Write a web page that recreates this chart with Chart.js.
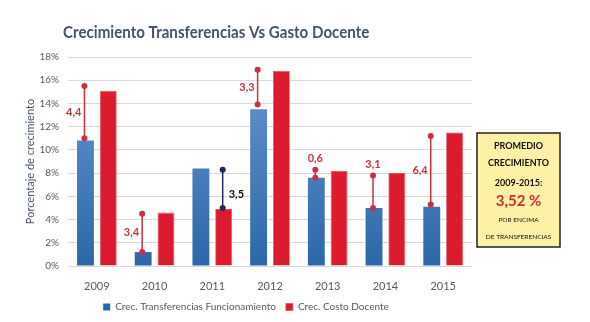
<!DOCTYPE html>
<html>
<head>
<meta charset="utf-8">
<script src="https://cdn.jsdelivr.net/npm/chart.js@4.4.0/dist/chart.umd.min.js"></script>
<style>
  html, body { margin: 0; padding: 0; background: #fff; }
  #wrap { width: 590px; height: 322px; }
</style>
</head>
<body>
<div id="wrap"><canvas id="myChart"></canvas></div>
<script>
// chart data
const years = ["2009", "2010", "2011", "2012", "2013", "2014", "2015"];
const transferencias = [10.8, 1.2, 8.4, 13.5, 7.6, 5.0, 5.1];
const costoDocente = [15.1, 4.6, 4.9, 16.8, 8.2, 8.0, 11.5];
// gap markers (from - to) and their labels
const gapLow = [11.0, 1.2, 5.0, 13.9, 7.6, 5.0, 5.3];
const gapHigh = [15.5, 4.5, 8.3, 16.9, 8.3, 7.8, 11.2];
const gapLabels = ["4,4", "3,4", "3,5", "3,3", "0,6", "3,1", "6,4"];
const yTicks = [0, 2, 4, 6, 8, 10, 12, 14, 16, 18];

// where each gap marker sits: which bar (0 blue, 1 red) and label side
const gapBar = [0, 0, 1, 0, 0, 0, 0];
const gapSide = ["left", "left", "right", "left", "top", "top", "left"];

const ctx = document.getElementById("myChart");
const FONT = "Lato, 'Open Sans', sans-serif";

const gapPlugin = {
  id: "gaps",
  afterDatasetsDraw(chart) {
    const c = chart.ctx;
    const y = chart.scales.y;
    years.forEach((yr, i) => {
      const bar = chart.getDatasetMeta(gapBar[i]).data[i];
      const x = bar.x - 1;
      const y1 = y.getPixelForValue(gapLow[i]);
      const y2 = y.getPixelForValue(gapHigh[i]);
      const col = gapBar[i] === 1 ? "#1f2a5c" : "#c8323f";
      c.save();
      c.strokeStyle = col;
      c.fillStyle = col;
      c.lineWidth = 1.5;
      c.beginPath();
      c.moveTo(x, y1);
      c.lineTo(x, y2);
      c.stroke();
      [y1, y2].forEach(p => {
        c.beginPath();
        c.arc(x, p, 3, 0, Math.PI * 2);
        c.fill();
      });
      c.font = "bold 11px " + FONT;
      c.fillStyle = gapBar[i] === 1 ? "#111" : "#c8323f";
      c.textBaseline = "middle";
      const mid = (y1 + y2) / 2;
      if (gapSide[i] === "left") {
        c.textAlign = "right";
        c.fillText(gapLabels[i], x - 3, mid);
      } else if (gapSide[i] === "right") {
        c.textAlign = "left";
        c.fillText(gapLabels[i], x + 6, mid + 6);
      } else {
        c.textAlign = "center";
        c.fillText(gapLabels[i], x, y2 - 11);
      }
      c.restore();
    });
  },
  afterDraw(chart) {
    const c = chart.ctx;
    c.save();
    // title (squeezed a bit, reference font is narrow)
    c.font = "bold 17px " + FONT;
    c.fillStyle = "#44546a";
    c.textAlign = "left";
    c.textBaseline = "middle";
    c.translate(63, 33);
    c.scale(0.89, 1);
    c.fillText("Crecimiento Transferencias Vs Gasto Docente", 0, 0);
    c.setTransform(1, 0, 0, 1, 0, 0);

    // side note box
    const bx = 477, by = 133, bw = 83, bh = 114;
    c.fillStyle = "#fdf1a6";
    c.fillRect(bx, by, bw, bh);
    c.strokeStyle = "#222";
    c.lineWidth = 1.5;
    c.strokeRect(bx, by, bw, bh);
    const cx = bx + bw / 2;
    c.textAlign = "center";
    c.fillStyle = "#111";
    c.font = "bold 9px " + FONT;
    c.fillText("PROMEDIO", cx, 146);
    c.fillText("CRECIMIENTO", cx, 163);
    c.fillText("2009-2015:", cx, 183);
    c.fillStyle = "#d32b2b";
    c.font = "bold 15px " + FONT;
    c.fillText("3,52 %", cx, 201);
    c.fillStyle = "#111";
    c.font = "6.5px " + FONT;
    c.fillText("POR ENCIMA", cx, 220);
    c.fillText("DE TRANSFERENCIAS", cx, 237);
    c.restore();
  }
};

function blueFill(context) {
  const area = context.chart.chartArea;
  if (!area) return "#3d74b4";
  const g = context.chart.ctx.createLinearGradient(0, area.top, 0, area.bottom);
  g.addColorStop(0, "#6a98d0");
  g.addColorStop(1, "#2c67a8");
  return g;
}

const myChart = new Chart(ctx, {
  type: "bar",
  data: {
    labels: years,
    datasets: [
      {
        label: "Crec. Transferencias Funcionamiento",
        data: transferencias,
        backgroundColor: blueFill,
        borderWidth: 0,
        categoryPercentage: 0.79,
        barPercentage: 0.74
      },
      {
        label: "Crec. Costo Docente",
        data: costoDocente,
        backgroundColor: "#dc1c2e",
        borderColor: "#e8505c",
        borderWidth: 0.8,
        categoryPercentage: 0.79,
        barPercentage: 0.74
      }
    ]
  },
  options: {
    responsive: true,
    maintainAspectRatio: false,
    animation: false,
    layout: { padding: { top: 57, left: 20, right: 118, bottom: 0 } },
    scales: {
      x: {
        grid: { display: false },
        border: { display: false },
        ticks: { color: "#595959", font: { family: FONT, size: 11 }, padding: 6 },
        afterFit: axis => { axis.height = 26; }
      },
      y: {
        min: 0,
        max: 18,
        afterBuildTicks: axis => { axis.ticks = yTicks.map(v => ({ value: v })); },
        afterFit: axis => { axis.width = 48; },
        grid: { color: "#d9d9d9", drawTicks: false },
        border: { display: false },
        ticks: {
          color: "#595959",
          font: { family: FONT, size: 10 },
          padding: 9,
          callback: v => v + "%"
        },
        title: {
          display: true,
          text: "Porcentaje de crecimiento",
          color: "#44546a",
          font: { family: FONT, size: 11 },
          padding: 4
        }
      }
    },
    plugins: {
      legend: {
        position: "bottom",
        labels: {
          boxWidth: 7,
          boxHeight: 7,
          padding: 10,
          color: "#595959",
          font: { family: FONT, size: 10 }
        }
      },
      tooltip: { enabled: false }
    }
  },
  plugins: [gapPlugin]
});
</script>
</body>
</html>
